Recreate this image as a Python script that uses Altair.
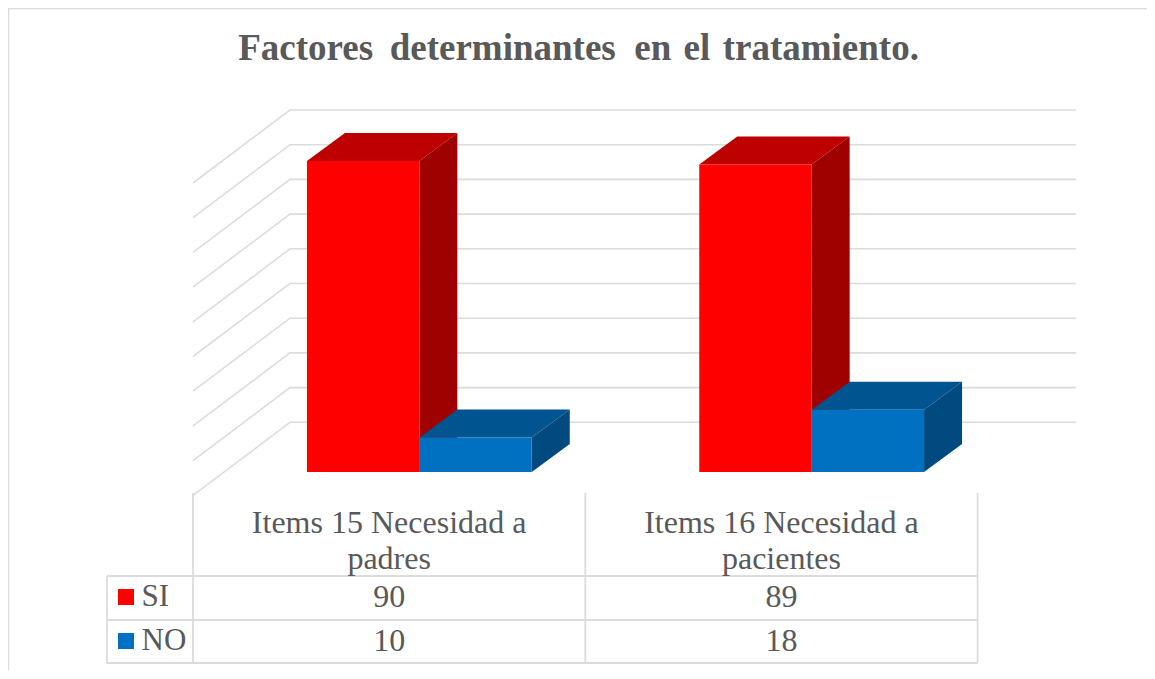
import altair as alt
import pandas as pd

# ---- values
header_line1 = ["Items 15 Necesidad a", "Items 16 Necesidad a"]
header_line2 = ["padres", "pacientes"]
series_names = ["SI", "NO"]
si_values = [90, 89]
no_values = [10, 18]
grid_levels = [10, 20, 30, 40, 50, 60, 70, 80, 90, 100]
title_text = "Factores\u2009 determinantes\u2005 en\u200a el\u200a tratamiento."

# ---- layout (page pixels minus the 8px page margin)
W, H = 1139, 662
OFF = 8
PX_CAT = 392.3       # px per category
PX_VAL = 3.456       # px per value unit
X0_PX = 193 - OFF    # left of first category
Y0_PX = 472 - OFF    # value 0 of bar front
DX = 38 / PX_CAT     # depth in category units
DY = 28 / PX_VAL     # depth in value units
BAR_W = 112.4 / PX_CAT
BAR_SHIFT = 30.2 / PX_CAT

xscale = alt.Scale(domain=[-X0_PX / PX_CAT, (W - X0_PX) / PX_CAT], range=[0, W], nice=False, zero=False)
yscale = alt.Scale(domain=[-(H - Y0_PX) / PX_VAL, Y0_PX / PX_VAL], range=[H, 0], nice=False, zero=False)

def X(f):
    return alt.X(f, type="quantitative", scale=xscale, axis=None)

def Y(f):
    return alt.Y(f, type="quantitative", scale=yscale, axis=None, stack=None)

def px_y(p):
    return (472 - p) / PX_VAL

def px_x(p):
    return (p - 193) / PX_CAT

# ---- face tables derived from the values
series_vals = {"SI": si_values, "NO": no_values}
side_rows, top_rows, front_rows = {}, {}, {}
for s_i, s in enumerate(series_names):
    side_rows[s], top_rows[s], front_rows[s] = [], [], []
    for c_i, v in enumerate(series_vals[s]):
        left = c_i + 0.5 + BAR_SHIFT - BAR_W + s_i * BAR_W
        right = left + BAR_W
        front_rows[s].append(dict(a=left, b=right, t=v, z=0))
        side_rows[s].append(dict(k=c_i, x=right, t=v, z=0))
        side_rows[s].append(dict(k=c_i, x=right + DX, t=v + DY, z=DY))
        top_rows[s].append(dict(k=c_i, y=v, a=left, b=right))
        top_rows[s].append(dict(k=c_i, y=v + DY, a=left + DX, b=right + DX))

shades = {"SI": ("#FF0000", "#BD0000", "#9F0000"), "NO": ("#0070C0", "#00548F", "#004A7F")}

layers = []
GRID = "#DCDCDC"

def polyline(rows, width):
    return (
        alt.Chart(pd.DataFrame(rows))
        .mark_line(color=GRID, strokeWidth=width)
        .encode(x=X("x"), y=Y("y"), detail="g:N", order="o:Q")
    )

# ---- outer chart frame
layers.append(polyline([
    dict(g="f", o=0, x=px_x(OFF + 0.5), y=px_y(OFF + H)),
    dict(g="f", o=1, x=px_x(OFF + 0.5), y=px_y(OFF + 0.5)),
    dict(g="f", o=2, x=px_x(OFF + W), y=px_y(OFF + 0.5)),
], 1.6))

# ---- gridlines (back wall + left wall)
BACK_ZERO = (472 - 457) / PX_VAL
BACK_UNIT = 3.47 / PX_VAL
BACK_X = (290 - 193) / PX_CAT
BACK_DY = 73 / PX_VAL
BACK_END = (1076 - 193) / PX_CAT
grid_rows = []
for g in grid_levels:
    yb = BACK_ZERO + g * BACK_UNIT
    grid_rows.append(dict(g=g, o=0, x=0, y=yb - BACK_DY))
    grid_rows.append(dict(g=g, o=1, x=BACK_X, y=yb))
    grid_rows.append(dict(g=g, o=2, x=BACK_END, y=yb))
layers.append(polyline(grid_rows, 1.6))

# ---- table lines
TABLE_TOP, ROW1, ROW2, ROW3 = 493, 576, 620, 663
seg = []
for n, c in enumerate([0, 1, 2]):
    seg.append(dict(g=f"v{n}", o=0, x=c, y=px_y(TABLE_TOP)))
    seg.append(dict(g=f"v{n}", o=1, x=c, y=px_y(ROW3)))
for n, r in enumerate([ROW1, ROW2, ROW3]):
    seg.append(dict(g=f"h{n}", o=0, x=px_x(107), y=px_y(r)))
    seg.append(dict(g=f"h{n}", o=1, x=2, y=px_y(r)))
seg.append(dict(g="vl", o=0, x=px_x(107), y=px_y(ROW1)))
seg.append(dict(g="vl", o=1, x=px_x(107), y=px_y(ROW3)))
layers.append(polyline(seg, 1.8))

# ---- 3D bars
for s in series_names:
    front, topc, sidec = shades[s]
    layers.append(
        alt.Chart(pd.DataFrame(side_rows[s]))
        .mark_area(color=sidec, opacity=1)
        .encode(x=X("x"), y=Y("t"), y2=alt.Y2("z"), detail="k:N")
    )
    layers.append(
        alt.Chart(pd.DataFrame(top_rows[s]))
        .mark_area(color=topc, opacity=1)
        .encode(y=Y("y"), x=X("a"), x2=alt.X2("b"), detail="k:N")
    )
    layers.append(
        alt.Chart(pd.DataFrame(front_rows[s]))
        .mark_rect(color=front)
        .encode(x=X("a"), x2=alt.X2("b"), y=Y("t"), y2=alt.Y2("z"))
    )

# ---- text
FONT = "Liberation Serif"
TXT = "#595959"

def texts(rows, size=32, bold=False, align="center"):
    return (
        alt.Chart(pd.DataFrame(rows))
        .mark_text(font=FONT, fontSize=size, color=TXT, align=align, baseline="middle",
                   fontWeight="bold" if bold else "normal")
        .encode(x=X("x"), y=Y("y"), text="t:N")
    )

cells = []
for i in range(2):
    cells.append(dict(x=i + 0.5, y=px_y(523), t=header_line1[i]))
    cells.append(dict(x=i + 0.5, y=px_y(559), t=header_line2[i]))
    cells.append(dict(x=i + 0.5, y=px_y(597), t=str(si_values[i])))
    cells.append(dict(x=i + 0.5, y=px_y(641), t=str(no_values[i])))
layers.append(texts(cells))

legend_y = {"SI": 597, "NO": 641}
layers.append(texts([dict(x=px_x(141.5), y=px_y(legend_y[s]), t=s) for s in series_names], size=31, align="left"))
for s in series_names:
    layers.append(
        alt.Chart(pd.DataFrame([dict(x=px_x(126), y=px_y(legend_y[s]))]))
        .mark_point(shape="square", filled=True, size=256, color=shades[s][0], opacity=1)
        .encode(x=X("x"), y=Y("y"))
    )

layers.append(texts([dict(x=px_x(578.5), y=px_y(49), t=title_text)], size=37, bold=True))

chart = (
    alt.layer(*layers)
    .properties(width=W, height=H, padding=0, autosize=alt.AutoSizeParams(type="none"), background="white")
    .configure_view(stroke=None)
)

chart.save("out.html", embed_options={"renderer": "svg", "actions": False})
